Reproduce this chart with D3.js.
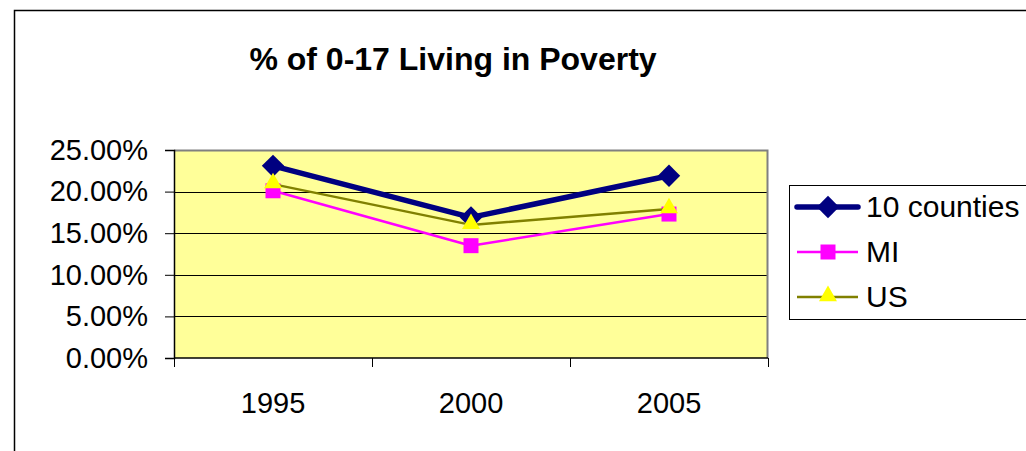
<!DOCTYPE html>
<html>
<head>
<meta charset="utf-8">
<script src="https://cdn.jsdelivr.net/npm/d3@7"></script>
<style>
    body { margin: 0; background: #fff; }
    svg { display: block; font-family: 'Liberation Sans', Arial, sans-serif; }
</style>
</head>
<body>
<main></main>
<script>
const years = ['1995', '2000', '2005'];
const counties10 = [0.231, 0.169, 0.219];
const mi = [0.201, 0.135, 0.173];
const us = [0.209, 0.160, 0.179];
const yTicks = [0, 0.05, 0.10, 0.15, 0.20, 0.25];
const seriesNames = ['10 counties', 'MI', 'US'];

(() => {
    const w = 1026;
    const h = 451;
    const plot = { left: 174, right: 768, top: 150, bottom: 358 };
    const svg = d3.select('main').append('svg').attr('width', w).attr('height', h);

    // outer chart border (runs off the right/bottom of the picture)
    svg.append('rect')
        .attr('x', 14.5).attr('y', 10.5)
        .attr('width', w + 20).attr('height', h + 20)
        .attr('fill', 'none').attr('stroke', '#000').attr('stroke-width', 1.5);

    svg.append('text')
        .attr('x', 453).attr('y', 70)
        .attr('text-anchor', 'middle')
        .attr('font-size', 32).attr('font-weight', 'bold')
        .text('% of 0-17 Living in Poverty');

    const xScale = d3.scaleBand().domain(years).range([plot.left, plot.right]);
    const yScale = d3.scaleLinear().domain([0, 0.25]).range([plot.bottom, plot.top]);

    svg.append('rect')
        .attr('x', plot.left).attr('y', plot.top)
        .attr('width', plot.right - plot.left).attr('height', plot.bottom - plot.top)
        .attr('fill', '#ffff99');

    // gridlines
    svg.append('g').selectAll('line').data(yTicks.slice(1, -1)).enter().append('line')
        .attr('x1', plot.left).attr('x2', plot.right)
        .attr('y1', d => Math.round(yScale(d)) + 0.5).attr('y2', d => Math.round(yScale(d)) + 0.5)
        .attr('stroke', '#000').attr('stroke-width', 1);

    // gray frame top and right
    svg.append('path')
        .attr('d', `M${plot.left},${plot.top + 0.5}H${plot.right - 0.5}V${plot.bottom}`)
        .attr('fill', 'none').attr('stroke', '#808080').attr('stroke-width', 2);

    const yAxis = d3.axisLeft(yScale).tickValues(yTicks).tickFormat(d3.format('.2%')).tickSize(9).tickPadding(17);
    const gy = svg.append('g')
        .attr('transform', `translate(${plot.left}, 0)`)
        .call(yAxis);
    gy.select('.domain').attr('stroke-width', 1.5);
    gy.selectAll('text').attr('font-size', 29).attr('fill', '#000').attr('font-family', null);

    const xAxis = d3.axisBottom(xScale).tickSize(0).tickPadding(34);
    const gx = svg.append('g')
        .attr('transform', `translate(0, ${plot.bottom})`)
        .call(xAxis);
    gx.select('.domain').attr('stroke-width', 1.5).attr('d', `M${plot.left},0H${plot.right}`);
    gx.selectAll('text').attr('font-size', 29).attr('fill', '#000').attr('font-family', null);
    // tick marks sit on category boundaries
    gx.append('g').selectAll('line').data(years.concat(['end'])).enter().append('line')
        .attr('x1', (d, i) => plot.left + i * xScale.step() + 0.5)
        .attr('x2', (d, i) => plot.left + i * xScale.step() + 0.5)
        .attr('y1', 0).attr('y2', 9)
        .attr('stroke', '#000');

    const cx = d => xScale(d) + xScale.bandwidth() / 2;
    const line = d3.line().x(d => cx(d.year)).y(d => yScale(d.value));
    const series = [
        { name: seriesNames[0], values: counties10, stroke: '#000080', width: 5.5, fill: '#000080',
          symbol: d3.symbol().type(d3.symbolSquare).size(250), rotate: 45 },
        { name: seriesNames[1], values: mi, stroke: '#ff00ff', width: 2.5, fill: '#ff00ff',
          symbol: d3.symbol().type(d3.symbolSquare).size(225), rotate: 0 },
        { name: seriesNames[2], values: us, stroke: '#808000', width: 2.5, fill: '#ffff00',
          symbol: d3.symbol().type(d3.symbolTriangle).size(140), rotate: 0, dy: -1 }
    ];

    series.forEach(s => {
        const pts = years.map((y, i) => ({ year: y, value: s.values[i] }));
        svg.append('path')
            .datum(pts)
            .attr('d', line)
            .attr('fill', 'none')
            .attr('stroke', s.stroke)
            .attr('stroke-width', s.width)
            .attr('stroke-linejoin', 'round');
        svg.append('g').selectAll('path').data(pts).enter().append('path')
            .attr('d', s.symbol)
            .attr('fill', s.fill)
            .attr('transform', d => `translate(${cx(d.year)}, ${yScale(d.value) + (s.dy || 0)}) rotate(${s.rotate})`);
    });

    // legend
    const legend = svg.append('g');
    legend.append('rect')
        .attr('x', 789.5).attr('y', 185.5)
        .attr('width', 260).attr('height', 134)
        .attr('fill', '#fff').attr('stroke', '#000').attr('stroke-width', 1);
    series.forEach((s, i) => {
        const ly = 207 + i * 45;
        legend.append('line')
            .attr('x1', 797).attr('x2', 858)
            .attr('y1', ly).attr('y2', ly)
            .attr('stroke', s.stroke).attr('stroke-width', s.width).attr('stroke-linecap', i === 0 ? 'round' : 'butt');
        legend.append('path')
            .attr('d', s.symbol)
            .attr('fill', s.fill)
            .attr('transform', `translate(828, ${ly + (s.dy || 0)}) rotate(${s.rotate})`);
        legend.append('text')
            .attr('x', 866).attr('y', ly + 10)
            .attr('font-size', 30)
            .text(s.name);
    });
})();
</script>
</body>
</html>
